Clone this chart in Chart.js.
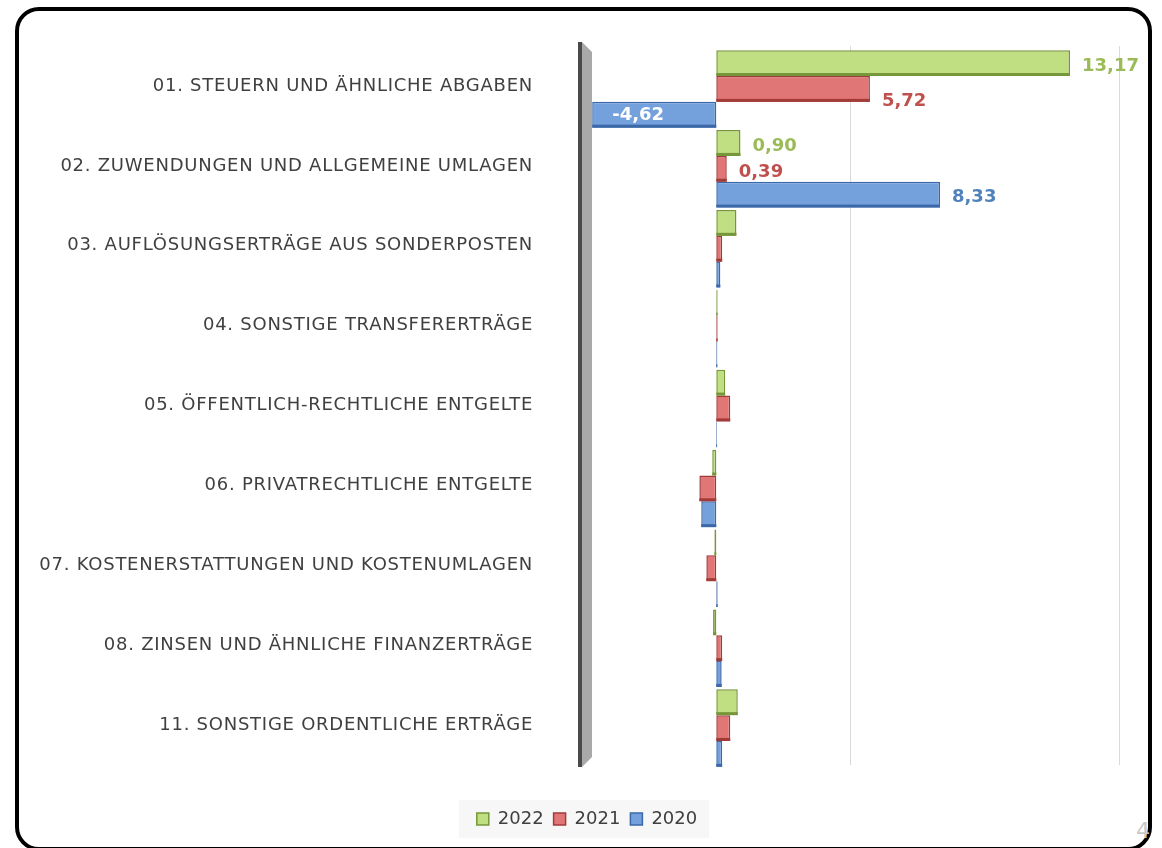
<!DOCTYPE html>
<html lang="de">
<head>
  <meta charset="UTF-8">
  <title>Erträge</title>
  <script src="https://cdn.jsdelivr.net/npm/chart.js"></script>
  <style>
    body{
      margin: 0;
      width: 1162px;
      height: 848px;
      overflow: hidden;
      background: #fff;
      font-family: "DejaVu Sans", Verdana, sans-serif;
    }
    #frame {
      position: absolute;
      left: 15px;
      top: 7px;
      width: 1129px;
      height: 836px;
      border: 4px solid #000;
      border-radius: 24px;
    }
    #chart_box {
      position: absolute;
      left: 0;
      top: 0;
      width: 1162px;
      height: 848px;
    }
    #page_no {
      position: absolute;
      left: 1136px;
      top: 818px;
      color: #c8c8c8;
      font-size: 22px;
    }
  </style>
</head>
<body>
  <div id="frame"></div>
  <div id="page_no">4</div>
  <div id="chart_box"><canvas id="myChart"></canvas></div>

  <script>
const categories = [
  '01. STEUERN UND ÄHNLICHE ABGABEN',
  '02. ZUWENDUNGEN UND ALLGEMEINE UMLAGEN',
  '03. AUFLÖSUNGSERTRÄGE AUS SONDERPOSTEN',
  '04. SONSTIGE TRANSFERERTRÄGE',
  '05. ÖFFENTLICH-RECHTLICHE ENTGELTE',
  '06. PRIVATRECHTLICHE ENTGELTE',
  '07. KOSTENERSTATTUNGEN UND KOSTENUMLAGEN',
  '08. ZINSEN UND ÄHNLICHE FINANZERTRÄGE',
  '11. SONSTIGE ORDENTLICHE ERTRÄGE'
];
const years = ['2022', '2021', '2020'];
const values2022 = [13.17, 0.90, 0.75, 0.05, 0.33, -0.15, -0.07, -0.12, 0.80];
const values2021 = [5.72, 0.39, 0.22, 0.05, 0.52, -0.63, -0.37, 0.22, 0.52];
const values2020 = [-4.62, 8.33, 0.15, 0.04, 0.03, -0.56, 0.05, 0.20, 0.22];
// only the first two groups carry value labels in the original
const labelledCategories = [0, 1];
const xTicks = [-5, 5, 15];

const fills = ['#c0de82', '#e07676', '#74a0dc'];
const borders = ['#76963a', '#a23a38', '#3b68a8'];
const labelColors = ['#9bbb59', '#c0504d', '#4f81bd'];

const fmt = v => v.toFixed(2).replace('.', ',');

// grey side wall at the left of the plot
const wallPlugin = {
  id: 'wall',
  beforeDatasetsDraw(chart) {
    const c = chart.ctx;
    const x = chart.scales.x.getPixelForValue(-5);
    const top = chart.chartArea.top - 4;
    const bottom = chart.chartArea.bottom + 2;
    c.save();
    c.fillStyle = '#a9a9a9';
    c.beginPath();
    c.moveTo(x, top);
    c.lineTo(x + 10, top + 10);
    c.lineTo(x + 10, bottom - 10);
    c.lineTo(x, bottom);
    c.closePath();
    c.fill();
    c.fillStyle = '#4a4a4a';
    c.fillRect(x - 4, top, 4, bottom - top);
    c.restore();
  }
};

// bars sit a few px low (3d look), darker bottom edge, then the value labels
const valuePlugin = {
  id: 'values',
  beforeDatasetsDraw(chart) {
    chart.ctx.save();
    chart.ctx.translate(0, 3);
  },
  afterDatasetsDraw(chart) {
    const c = chart.ctx;
    chart.data.datasets.forEach((ds, di) => {
      const meta = chart.getDatasetMeta(di);
      meta.data.forEach(bar => {
        const l = Math.min(bar.x, bar.base);
        const w = Math.abs(bar.x - bar.base);
        c.fillStyle = borders[di];
        c.fillRect(l, bar.y + bar.height / 2 - 3, w, 3);
      });
    });
    c.font = 'bold 18px "DejaVu Sans", Verdana, sans-serif';
    c.textBaseline = 'middle';
    c.textAlign = 'left';
    chart.data.datasets.forEach((ds, di) => {
      const meta = chart.getDatasetMeta(di);
      labelledCategories.forEach(i => {
        const bar = meta.data[i];
        const v = ds.data[i];
        if (v < 0) {
          c.fillStyle = '#ffffff';
          c.fillText(fmt(v), bar.x + 20, bar.y + 1);
        } else {
          // the 2021 label of the first group sits lower in the original
          const dy = (di === 1 && i === 0) ? 12 : 3;
          c.fillStyle = labelColors[di];
          c.fillText(fmt(v), bar.x + 12, bar.y + dy);
        }
      });
    });
    c.restore();
    // category labels are drawn after this (ticks z = 1), spaced a little wider
    c.letterSpacing = '0.75px';
  },
  afterDraw(chart) {
    chart.ctx.letterSpacing = '0px';
  }
};

// light panel behind the legend
const legendBgPlugin = {
  id: 'legendBg',
  beforeDraw(chart) {
    const boxes = chart.legend.legendHitBoxes;
    if (!boxes || !boxes.length) return;
    const l = boxes[0].left - 18;
    const r = boxes[boxes.length - 1].left + boxes[boxes.length - 1].width + 12;
    const t = boxes[0].top - 10;
    const h = boxes[0].height + 20;
    const c = chart.ctx;
    c.save();
    c.fillStyle = '#f7f7f7';
    c.fillRect(l, t, r - l, h);
    c.restore();
  }
};

const ctx = document.getElementById('myChart').getContext('2d');
const myChart = new Chart(ctx, {
  type: 'bar',
  data: {
    labels: categories,
    datasets: [values2022, values2021, values2020].map((vals, i) => ({
      label: years[i],
      data: vals,
      backgroundColor: fills[i],
      borderColor: borders[i],
      borderWidth: 1.5,
      borderSkipped: false,
      barPercentage: 1,
      categoryPercentage: 0.97
    }))
  },
  options: {
    indexAxis: 'y',
    responsive: true,
    maintainAspectRatio: false,
    animation: false,
    layout: {
      padding: { left: 28, right: 16, top: 46, bottom: 10 }
    },
    scales: {
      x: {
        min: -5,
        max: 16,
        afterBuildTicks: scale => { scale.ticks = xTicks.map(v => ({ value: v })); },
        afterFit: scale => { scale.height = 35; },
        ticks: { display: false },
        border: { display: false },
        grid: { color: '#d9d9d9', lineWidth: 1, drawTicks: false }
      },
      y: {
        afterFit: scale => {
          scale.width = 554;
          scale.paddingTop = 0;
          scale.paddingBottom = 0;
        },
        grid: { display: false },
        border: { display: false },
        ticks: {
          z: 1,
          padding: 41,
          color: '#404040',
          font: { family: '"DejaVu Sans", Verdana, sans-serif', size: 18 }
        }
      }
    },
    plugins: {
      legend: {
        position: 'bottom',
        labels: {
          boxWidth: 12,
          boxHeight: 12,
          padding: 10,
          color: '#404040',
          font: { family: '"DejaVu Sans", Verdana, sans-serif', size: 18 }
        }
      },
      tooltip: { enabled: false }
    }
  },
  plugins: [wallPlugin, valuePlugin, legendBgPlugin]
});
  </script>
</body>
</html>
